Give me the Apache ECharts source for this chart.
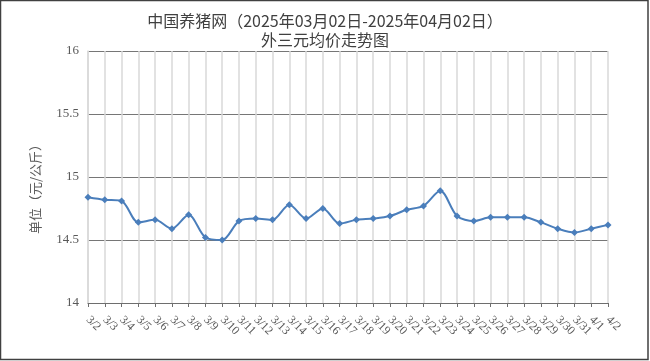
<!DOCTYPE html>
<html><head><meta charset="utf-8">
<script src="https://cdn.jsdelivr.net/npm/echarts@6/dist/echarts.min.js"></script>
<style>html,body{margin:0;padding:0;background:#fff}#c{width:650px;height:361px}</style>
</head><body><div id="c"></div>
<script>
const titleLine1 = '中国养猪网（2025年03月02日-2025年04月02日）';
const titleLine2 = '外三元均价走势图';
const yAxisName = '单位（元/公斤）';
const categories = ['3/2','3/3','3/4','3/5','3/6','3/7','3/8','3/9','3/10','3/11','3/12','3/13','3/14','3/15','3/16','3/17','3/18','3/19','3/20','3/21','3/22','3/23','3/24','3/25','3/26','3/27','3/28','3/29','3/30','3/31','4/1','4/2'];
const prices = [14.84,14.82,14.81,14.64,14.66,14.59,14.70,14.52,14.50,14.65,14.67,14.66,14.78,14.67,14.75,14.63,14.66,14.67,14.69,14.74,14.77,14.89,14.69,14.65,14.68,14.68,14.68,14.64,14.59,14.56,14.59,14.62];
const yTicks = [14, 14.5, 15, 15.5, 16];

const chart = echarts.init(document.getElementById('c'), null, {renderer: 'canvas'});
chart.setOption({
  animation: false,
  backgroundColor: '#fff',
  graphic: [{
    type: 'rect', silent: true, z: 100,
    shape: {x: 0.5, y: 0.5, width: 647.5, height: 359},
    style: {fill: 'none', stroke: '#404040', lineWidth: 1.5}
  }],
  title: {
    text: titleLine1 + '\n' + titleLine2,
    left: 'center', top: 6,
    textStyle: {fontFamily: '"Noto Sans CJK SC"', fontSize: 16, fontWeight: 'normal', color: '#404040', lineHeight: 19}
  },
  grid: {left: 88, right: 42, top: 51, bottom: 58, containLabel: false},
  xAxis: {
    type: 'category', data: categories, boundaryGap: false,
    axisLine: {lineStyle: {color: '#6e6e6e', width: 1}},
    axisTick: {show: true, length: 4, inside: false, lineStyle: {color: '#6e6e6e'}},
    axisLabel: {interval: 0, rotate: -45, fontFamily: '"Liberation Serif", serif', fontSize: 12, color: '#595959', margin: 15},
    splitLine: {show: true, lineStyle: {color: '#d9d9d9', width: 1.5}}
  },
  yAxis: {
    type: 'value', min: yTicks[0], max: yTicks[yTicks.length-1], interval: 0.5,
    name: yAxisName, nameLocation: 'middle', nameGap: 46,
    nameTextStyle: {fontFamily: '"Noto Sans CJK SC"', fontSize: 13, color: '#595959', padding: [0, 18, 0, 0]},
    axisLine: {show: true, lineStyle: {color: '#d9d9d9', width: 1.5}},
    axisTick: {show: false},
    axisLabel: {fontFamily: '"Liberation Serif", serif', fontSize: 13, color: '#595959', margin: 9},
    splitLine: {show: true, lineStyle: {color: '#767676', width: 1}}
  },
  series: [{
    type: 'line', data: prices, smooth: 0.3,
    symbol: 'diamond', symbolSize: 7,
    lineStyle: {color: '#4a7ebb', width: 2},
    itemStyle: {color: '#4a7ebb'}
  }]
});
</script></body></html>
